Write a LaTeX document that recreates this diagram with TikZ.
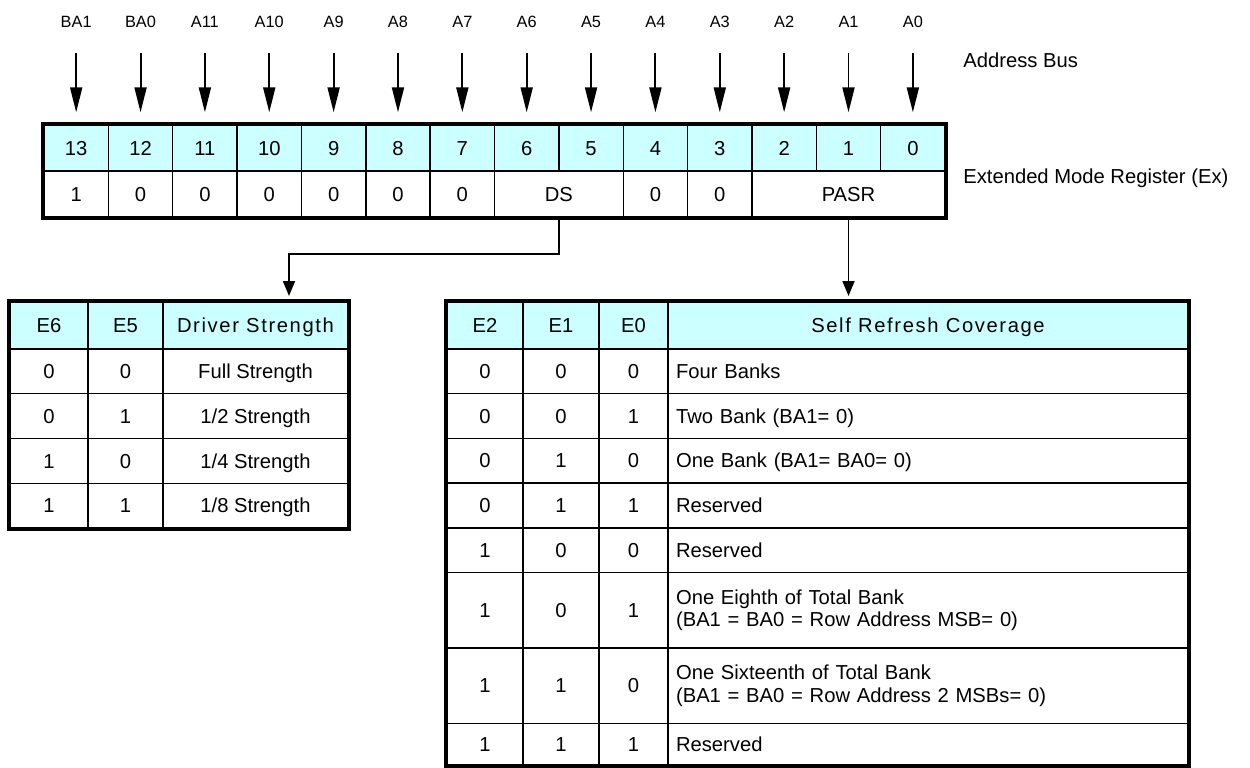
\documentclass[tikz,border=0pt]{standalone}
\usepackage{fontspec}
\setmainfont{Liberation Sans}
\newfontfamily\spacedfont[LetterSpace=8]{Liberation Sans}
\usepackage{tikz}
\usetikzlibrary{arrows.meta,positioning,calc}
\definecolor{hdcyan}{RGB}{204,255,255}
\newcommand{\cellfont}{\fontsize{11.5}{13}\selectfont}
\newcommand{\busfont}{\fontsize{9.3}{11}\selectfont}

\begin{document}
\begin{tikzpicture}[x=0.02cm, y=0.02cm,
    cellbox/.style={draw, line width=0.8pt, inner sep=0pt, font=\cellfont},
    cell/.style={cellbox, align=center, text height=8.2pt, text depth=0pt},
    regcell/.style={cell, minimum width=1.287cm, minimum height=0.92cm},
    bitcell/.style={regcell, fill=hdcyan},
    hdcell/.style={cell, fill=hdcyan, minimum height=0.94cm},
    desccell/.style={cellbox, minimum width=10.4cm, text width=10.08cm, inner xsep=0.16cm, align=left},
    frame/.style={draw, line width=2.4pt},
    buslabel/.style={font=\busfont, inner sep=0pt},
    sidelabel/.style={font=\cellfont, anchor=west, inner sep=0pt},
    busarrow/.style={-{Triangle[length=0.5cm, width=0.24cm]}, line width=1.1pt},
    link/.style={-{Triangle[length=0.3cm, width=0.24cm]}, line width=1pt}
]
\useasboundingbox (0,0) rectangle (1250,-767);

% Register: bit numbers
\foreach \bit [count=\i from 0] in {13,12,...,0}
  \node[bitcell] (b\bit) at ({76.18+64.36*\i},-148) {\bit};

% Register: contents
\foreach \bit/\v in {13/1,12/0,11/0,10/0,9/0,8/0,7/0,4/0,3/0}
  \node[regcell] (v\bit) at (b\bit |- 0,-194) {\v};
\node[regcell, minimum width=2.574cm] (ds) at (558.9,-194) {DS};
\node[regcell, minimum width=3.861cm] (pasr) at (848.5,-194) {PASR};
\draw[frame] (b13.north west) rectangle (pasr.south east);

% Address bus
\foreach \bit/\name in {13/BA1,12/BA0,11/A11,10/A10,9/A9,8/A8,7/A7,6/A6,5/A5,4/A4,3/A3,2/A2,1/A1,0/A0} {
  \node[buslabel] (a\bit) at (b\bit |- 0,-22) {\name};
  \draw[busarrow, shorten <=0.5cm, shorten >=0.24cm] (a\bit) -- (b\bit);
}
\node[sidelabel] (busname) at (963,-60) {Address Bus};
\node[sidelabel] (regname) at (963,-178) {Extended Mode Register (Ex)};

% Driver strength table
\node[hdcell, minimum width=1.56cm] (e6) at (49,-325.5) {E6};
\node[hdcell, minimum width=1.5cm] (e5) at (125.5,-325.5) {E5};
\node[hdcell, minimum width=3.7cm, font={\spacedfont\cellfont}] (drvhead) at (255.5,-325.5) {Driver Strength};
\foreach \p/\q/\s [count=\k] in {0/0/Full Strength, 0/1/{1/2 Strength}, 1/0/{1/4 Strength}, 1/1/{1/8 Strength}} {
  \node[cell, minimum width=1.56cm, minimum height=0.895cm] (drva\k) at (49,{-349-44.75*(\k-0.5)}) {\p};
  \node[cell, minimum width=1.5cm, minimum height=0.895cm] (drvb\k) at (125.5,{-349-44.75*(\k-0.5)}) {\q};
  \node[cell, minimum width=3.7cm, minimum height=0.895cm] (drvs\k) at (255.5,{-349-44.75*(\k-0.5)}) {\s};
}
\draw[frame] (e6.north west) rectangle (drvs4.south east);

% Self refresh table
\node[hdcell, minimum width=1.52cm] (e2) at (485,-325.5) {E2};
\node[hdcell, minimum width=1.52cm] (e1) at (561,-325.5) {E1};
\node[hdcell, minimum width=1.38cm] (e0) at (633.5,-325.5) {E0};
\node[hdcell, minimum width=10.4cm, font={\spacedfont\cellfont}] (srhead) at (928,-325.5) {Self Refresh Coverage};
% one-line rows
\foreach \k/\ea/\eb/\ec/\txt/\yc/\hgt in {
    1/0/0/0/Four Banks/371.35/0.894,
    2/0/0/1/Two Bank (BA1= 0)/416.05/0.894,
    3/0/1/0/One Bank (BA1= BA0= 0)/460.75/0.894,
    4/0/1/1/Reserved/505.45/0.894,
    5/1/0/0/Reserved/550.15/0.894,
    8/1/1/1/Reserved/744.25/0.83} {
  \node[cell, minimum width=1.52cm, minimum height=\hgt cm] (sra\k) at (485,-\yc) {\ea};
  \node[cell, minimum width=1.52cm, minimum height=\hgt cm] (srb\k) at (561,-\yc) {\eb};
  \node[cell, minimum width=1.38cm, minimum height=\hgt cm] (src\k) at (633.5,-\yc) {\ec};
  \node[desccell, text height=8.2pt, text depth=0pt, minimum height=\hgt cm] (srt\k) at (928,-\yc) {\txt};
}
% two-line rows
\foreach \k/\ea/\eb/\ec/\txt/\yc in {
    6/1/0/1/{One Eighth of Total Bank\\(BA1 = BA0 = Row Address MSB= 0)}/610.25,
    7/1/1/0/{One Sixteenth of Total Bank\\(BA1 = BA0 = Row Address 2 MSBs= 0)}/685.75} {
  \node[cell, minimum width=1.52cm, minimum height=1.51cm] (sra\k) at (485,-\yc) {\ea};
  \node[cell, minimum width=1.52cm, minimum height=1.51cm] (srb\k) at (561,-\yc) {\eb};
  \node[cell, minimum width=1.38cm, minimum height=1.51cm] (src\k) at (633.5,-\yc) {\ec};
  \node[desccell, minimum height=1.51cm] (srt\k) at (928,-\yc) {\rule[-3pt]{0pt}{11.2pt}\txt};
}
\draw[frame] (e2.north west) rectangle (srt8.south east);

% Field arrows
\coordinate (dsin) at (289,-296);
\draw[link] (ds.south) -- ++(0,-36) -| (dsin);
\draw[link] (pasr.south) -- (pasr.south |- dsin);

\end{tikzpicture}
\end{document}
